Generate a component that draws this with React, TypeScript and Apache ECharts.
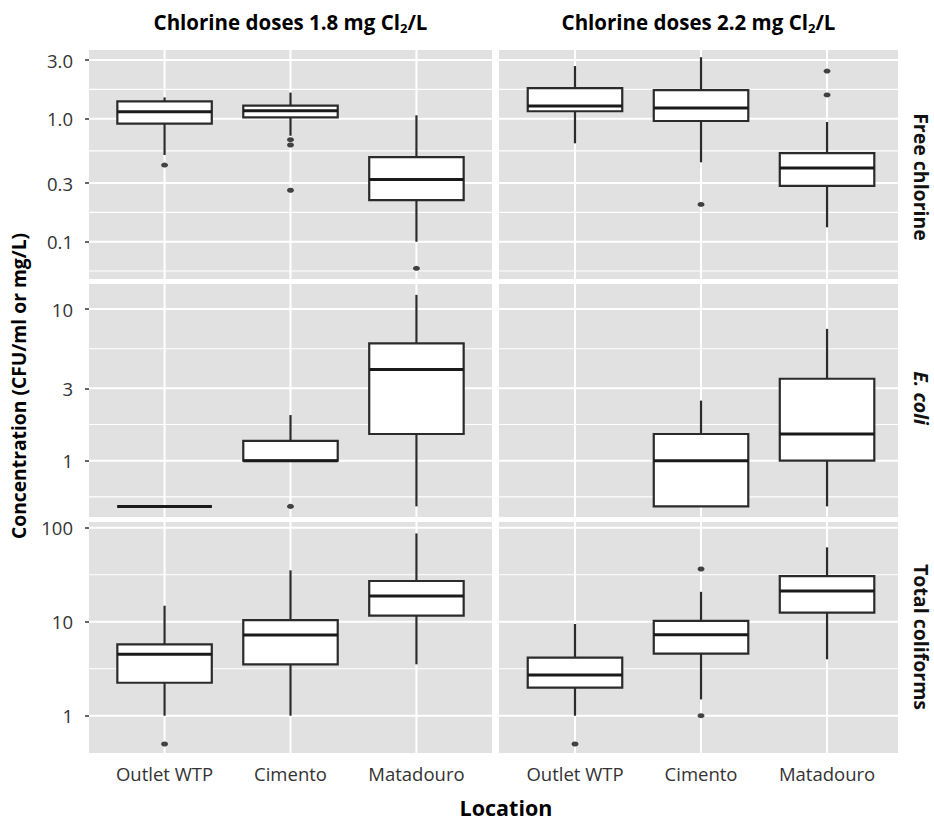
import React, { useEffect, useRef } from "react";
import * as echarts from "echarts";

// ---------- data ----------
const locations = ["Outlet WTP", "Cimento", "Matadouro"];
const doses = ["1.8", "2.2"];
const variables = ["Free chlorine", "E. coli", "Total coliforms"];
const yTitle = "Concentration (CFU/ml or mg/L)";
const xTitle = "Location";

// box stats per location: [lower whisker, Q1, median, Q3, upper whisker]
const freeChlorine18 = [
  [0.507, 0.911, 1.14, 1.385, 1.49],
  [0.727, 1.026, 1.16, 1.276, 1.63],
  [0.1, 0.218, 0.321, 0.488, 1.066],
];
const freeChlorine18Out = [[0.42], [0.675, 0.611, 0.262], [0.0608]];
const freeChlorine22 = [
  [0.631, 1.15, 1.27, 1.77, 2.68],
  [0.442, 0.958, 1.22, 1.71, 3.16],
  [0.131, 0.284, 0.397, 0.526, 0.94],
];
const freeChlorine22Out = [[], [0.201], [2.44, 1.56]];

const ecoli18 = [
  [0.5, 0.5, 0.5, 0.5, 0.5],
  [1.0, 1.0, 1.0, 1.35, 2.0],
  [0.5, 1.5, 4.0, 5.94, 12.4],
];
const ecoli18Out = [[], [0.5], []];
const ecoli22 = [
  null,
  [0.5, 0.5, 1.0, 1.5, 2.49],
  [0.5, 1.0, 1.5, 3.47, 7.4],
];
const ecoli22Out = [[], [], []];

const coliforms18 = [
  [1.0, 2.24, 4.5, 5.75, 14.8],
  [1.0, 3.52, 7.2, 10.4, 35.2],
  [3.52, 11.6, 18.8, 27.1, 87],
];
const coliforms18Out = [[0.5], [], []];
const coliforms22 = [
  [1.0, 1.99, 2.71, 4.14, 9.45],
  [1.49, 4.57, 7.27, 10.2, 20.8],
  [3.98, 12.5, 21.2, 30.6, 61.8],
];
const coliforms22Out = [[0.5], [36.4, 1.0], []];

const freeTicks = [0.1, 0.3, 1, 3];
const freeTickLabels = ["0.1", "0.3", "1.0", "3.0"];
const ecoliTicks = [1, 3, 10];
const ecoliTickLabels = ["1", "3", "10"];
const coliformTicks = [1, 10, 100];
const coliformTickLabels = ["1", "10", "100"];

// ---------- layout ----------
const FONT = "'Open Sans', Lato, sans-serif";
const colLeft = [89, 499];
const colWidth = [403, 399];
const rowTop = [50, 284, 522];
const rowHeight = [229, 233, 231];
const xLimits = [
  [0.4, 3.6],
  [0.397, 3.563],
];
// limits in log10 units
const yLimits = [
  [-1.303, 0.5585],
  [-0.371, 1.165],
  [-0.397, 2.061],
];

const panelBoxes = [
  [freeChlorine18, freeChlorine22],
  [ecoli18, ecoli22],
  [coliforms18, coliforms22],
];
const panelOutliers = [
  [freeChlorine18Out, freeChlorine22Out],
  [ecoli18Out, ecoli22Out],
  [coliforms18Out, coliforms22Out],
];
const rowTicks = [freeTicks, ecoliTicks, coliformTicks];
const rowTickLabels = [freeTickLabels, ecoliTickLabels, coliformTickLabels];

const lg = (v: number) => Math.log10(v);

function minorBreaks(major: number[], lo: number, hi: number) {
  const b = major.slice();
  const bd = b[1] - b[0];
  if (lo < b[0]) b.unshift(b[0] - bd);
  if (hi > b[b.length - 1]) b.push(b[b.length - 1] + bd);
  const out: number[] = [];
  for (let i = 0; i < b.length - 1; i++) out.push((b[i] + b[i + 1]) / 2);
  return out.filter((v) => v > lo && v < hi);
}

function buildOption() {
  const grid: any[] = [];
  const xAxis: any[] = [];
  const yAxis: any[] = [];
  const series: any[] = [];

  for (let r = 0; r < 3; r++) {
    const ticksLog = rowTicks[r].map(lg);
    const [ylo, yhi] = yLimits[r];
    const minors = minorBreaks(ticksLog, ylo, yhi);
    for (let c = 0; c < 2; c++) {
      const i = r * 2 + c;
      grid.push({
        left: colLeft[c],
        top: rowTop[r],
        width: colWidth[c],
        height: rowHeight[r],
        show: true,
        backgroundColor: "#E1E1E1",
        borderWidth: 0,
      });
      xAxis.push({
        type: "value",
        gridIndex: i,
        min: xLimits[c][0],
        max: xLimits[c][1],
        axisLine: { show: false },
        axisTick: { show: false },
        splitLine: { show: false },
        axisLabel:
          r === 2
            ? {
                show: true,
                customValues: [1, 2, 3],
                formatter: (v: number) => locations[Math.round(v) - 1] ?? "",
                fontSize: 18.5,
                fontFamily: FONT,
                color: "#333",
                margin: 11,
              }
            : { show: false },
      });
      yAxis.push({
        type: "value",
        gridIndex: i,
        min: ylo,
        max: yhi,
        axisLine: { show: false },
        splitLine: { show: false },
        axisTick:
          c === 0
            ? {
                show: true,
                customValues: ticksLog,
                length: 4,
                lineStyle: { color: "#333", width: 1.5 },
              }
            : { show: false },
        axisLabel:
          c === 0
            ? {
                show: true,
                customValues: ticksLog,
                formatter: (v: number) => {
                  const k = ticksLog.findIndex((t) => Math.abs(t - v) < 1e-6);
                  return k >= 0 ? rowTickLabels[r][k] : "";
                },
                fontSize: 18.5,
                fontFamily: FONT,
                color: "#333",
                margin: 16,
              }
            : { show: false },
      });

      // grid lines
      const gl: number[][] = [];
      ticksLog.forEach((t) => gl.push([0, t]));
      minors.forEach((t) => gl.push([1, t]));
      [1, 2, 3].forEach((x) => gl.push([2, x]));
      series.push({
        type: "custom",
        xAxisIndex: i,
        yAxisIndex: i,
        z: 1,
        silent: true,
        clip: false,
        data: gl,
        renderItem: (params: any, api: any) => {
          const kind = api.value(0);
          const v = api.value(1);
          const cs = params.coordSys;
          if (kind === 2) {
            const x = api.coord([v, (ylo + yhi) / 2])[0];
            return {
              type: "line",
              shape: { x1: x, y1: cs.y, x2: x, y2: cs.y + cs.height },
              style: { stroke: "#fff", lineWidth: 2 },
            };
          }
          const y = api.coord([2, v])[1];
          return {
            type: "line",
            shape: { x1: cs.x, y1: y, x2: cs.x + cs.width, y2: y },
            style: { stroke: "#fff", lineWidth: kind === 0 ? 2 : 1.1 },
          };
        },
      });

      // boxes
      const boxData: any[] = [];
      panelBoxes[r][c].forEach((b, k) => {
        if (b) boxData.push([k + 1, ...b.map(lg)]);
      });
      series.push({
        type: "custom",
        xAxisIndex: i,
        yAxisIndex: i,
        z: 3,
        data: boxData,
        renderItem: (params: any, api: any) => {
          const x = api.value(0);
          const pLow = api.coord([x, api.value(1)]);
          const pQ1 = api.coord([x, api.value(2)]);
          const pMed = api.coord([x, api.value(3)]);
          const pQ3 = api.coord([x, api.value(4)]);
          const pHigh = api.coord([x, api.value(5)]);
          const half = api.size([0.75, 0])[0] / 2;
          const cx = pMed[0];
          const stroke = "#2b2b2b";
          return {
            type: "group",
            children: [
              {
                type: "line",
                shape: { x1: cx, y1: pHigh[1], x2: cx, y2: pQ3[1] },
                style: { stroke, lineWidth: 2.2 },
              },
              {
                type: "line",
                shape: { x1: cx, y1: pQ1[1], x2: cx, y2: pLow[1] },
                style: { stroke, lineWidth: 2.2 },
              },
              {
                type: "rect",
                shape: {
                  x: cx - half,
                  y: pQ3[1],
                  width: half * 2,
                  height: pQ1[1] - pQ3[1],
                },
                style: { fill: "#fff", stroke, lineWidth: 2.2 },
              },
              {
                type: "line",
                shape: { x1: cx - half, y1: pMed[1], x2: cx + half, y2: pMed[1] },
                style: { stroke: "#1a1a1a", lineWidth: 3 },
              },
            ],
          };
        },
      });

      // outliers
      const outData: number[][] = [];
      panelOutliers[r][c].forEach((arr, k) => {
        arr.forEach((v) => outData.push([k + 1, lg(v)]));
      });
      series.push({
        type: "scatter",
        xAxisIndex: i,
        yAxisIndex: i,
        z: 4,
        symbol: "circle",
        symbolSize: [7, 5],
        itemStyle: { color: "#151515" },
        data: outData,
      });
    }
  }

  const titleRich = {
    a: { fontSize: 20.5, fontWeight: "bold", fontFamily: FONT, color: "#111", lineHeight: 24 },
    s: {
      fontSize: 13,
      fontWeight: "bold",
      fontFamily: FONT,
      color: "#111",
      lineHeight: 13,
      verticalAlign: "bottom",
    },
  };

  const graphic: any[] = [];
  doses.forEach((d, c) => {
    graphic.push({
      type: "text",
      x: colLeft[c] + colWidth[c] / 2,
      y: 22,
      style: {
        text: `{a|Chlorine doses ${d} mg Cl}{s|2}{a|/L}`,
        rich: titleRich,
        align: "center",
        verticalAlign: "middle",
      },
    });
  });
  const stripY = [177, 398, 637];
  variables.forEach((v, r) => {
    graphic.push({
      type: "text",
      x: 921,
      y: stripY[r],
      rotation: -Math.PI / 2,
      style: {
        text: v,
        fontSize: 19.5,
        fontWeight: "bold",
        fontStyle: r === 1 ? "italic" : "normal",
        fontFamily: FONT,
        fill: "#111",
        align: "center",
        verticalAlign: "middle",
      },
    });
  });
  graphic.push({
    type: "text",
    x: 18,
    y: 386,
    rotation: Math.PI / 2,
    style: {
      text: yTitle,
      fontSize: 19.3,
      fontWeight: "bold",
      fontFamily: FONT,
      fill: "#000",
      align: "center",
      verticalAlign: "middle",
    },
  });
  graphic.push({
    type: "text",
    x: 506,
    y: 807,
    style: {
      text: xTitle,
      fontSize: 21.5,
      fontWeight: "bold",
      fontFamily: FONT,
      fill: "#000",
      align: "center",
      verticalAlign: "middle",
    },
  });

  return {
    animation: false,
    backgroundColor: "#fff",
    grid,
    xAxis,
    yAxis,
    series,
    graphic,
  };
}

export default function App() {
  const ref = useRef<HTMLDivElement>(null);
  useEffect(() => {
    if (!ref.current) return;
    const chart = echarts.init(ref.current, undefined, { renderer: "svg" });
    chart.setOption(buildOption() as any);
    return () => chart.dispose();
  }, []);
  return (
    <div
      ref={ref}
      style={{ position: "fixed", left: 0, top: 0, width: 934, height: 820, background: "#fff" }}
    />
  );
}
